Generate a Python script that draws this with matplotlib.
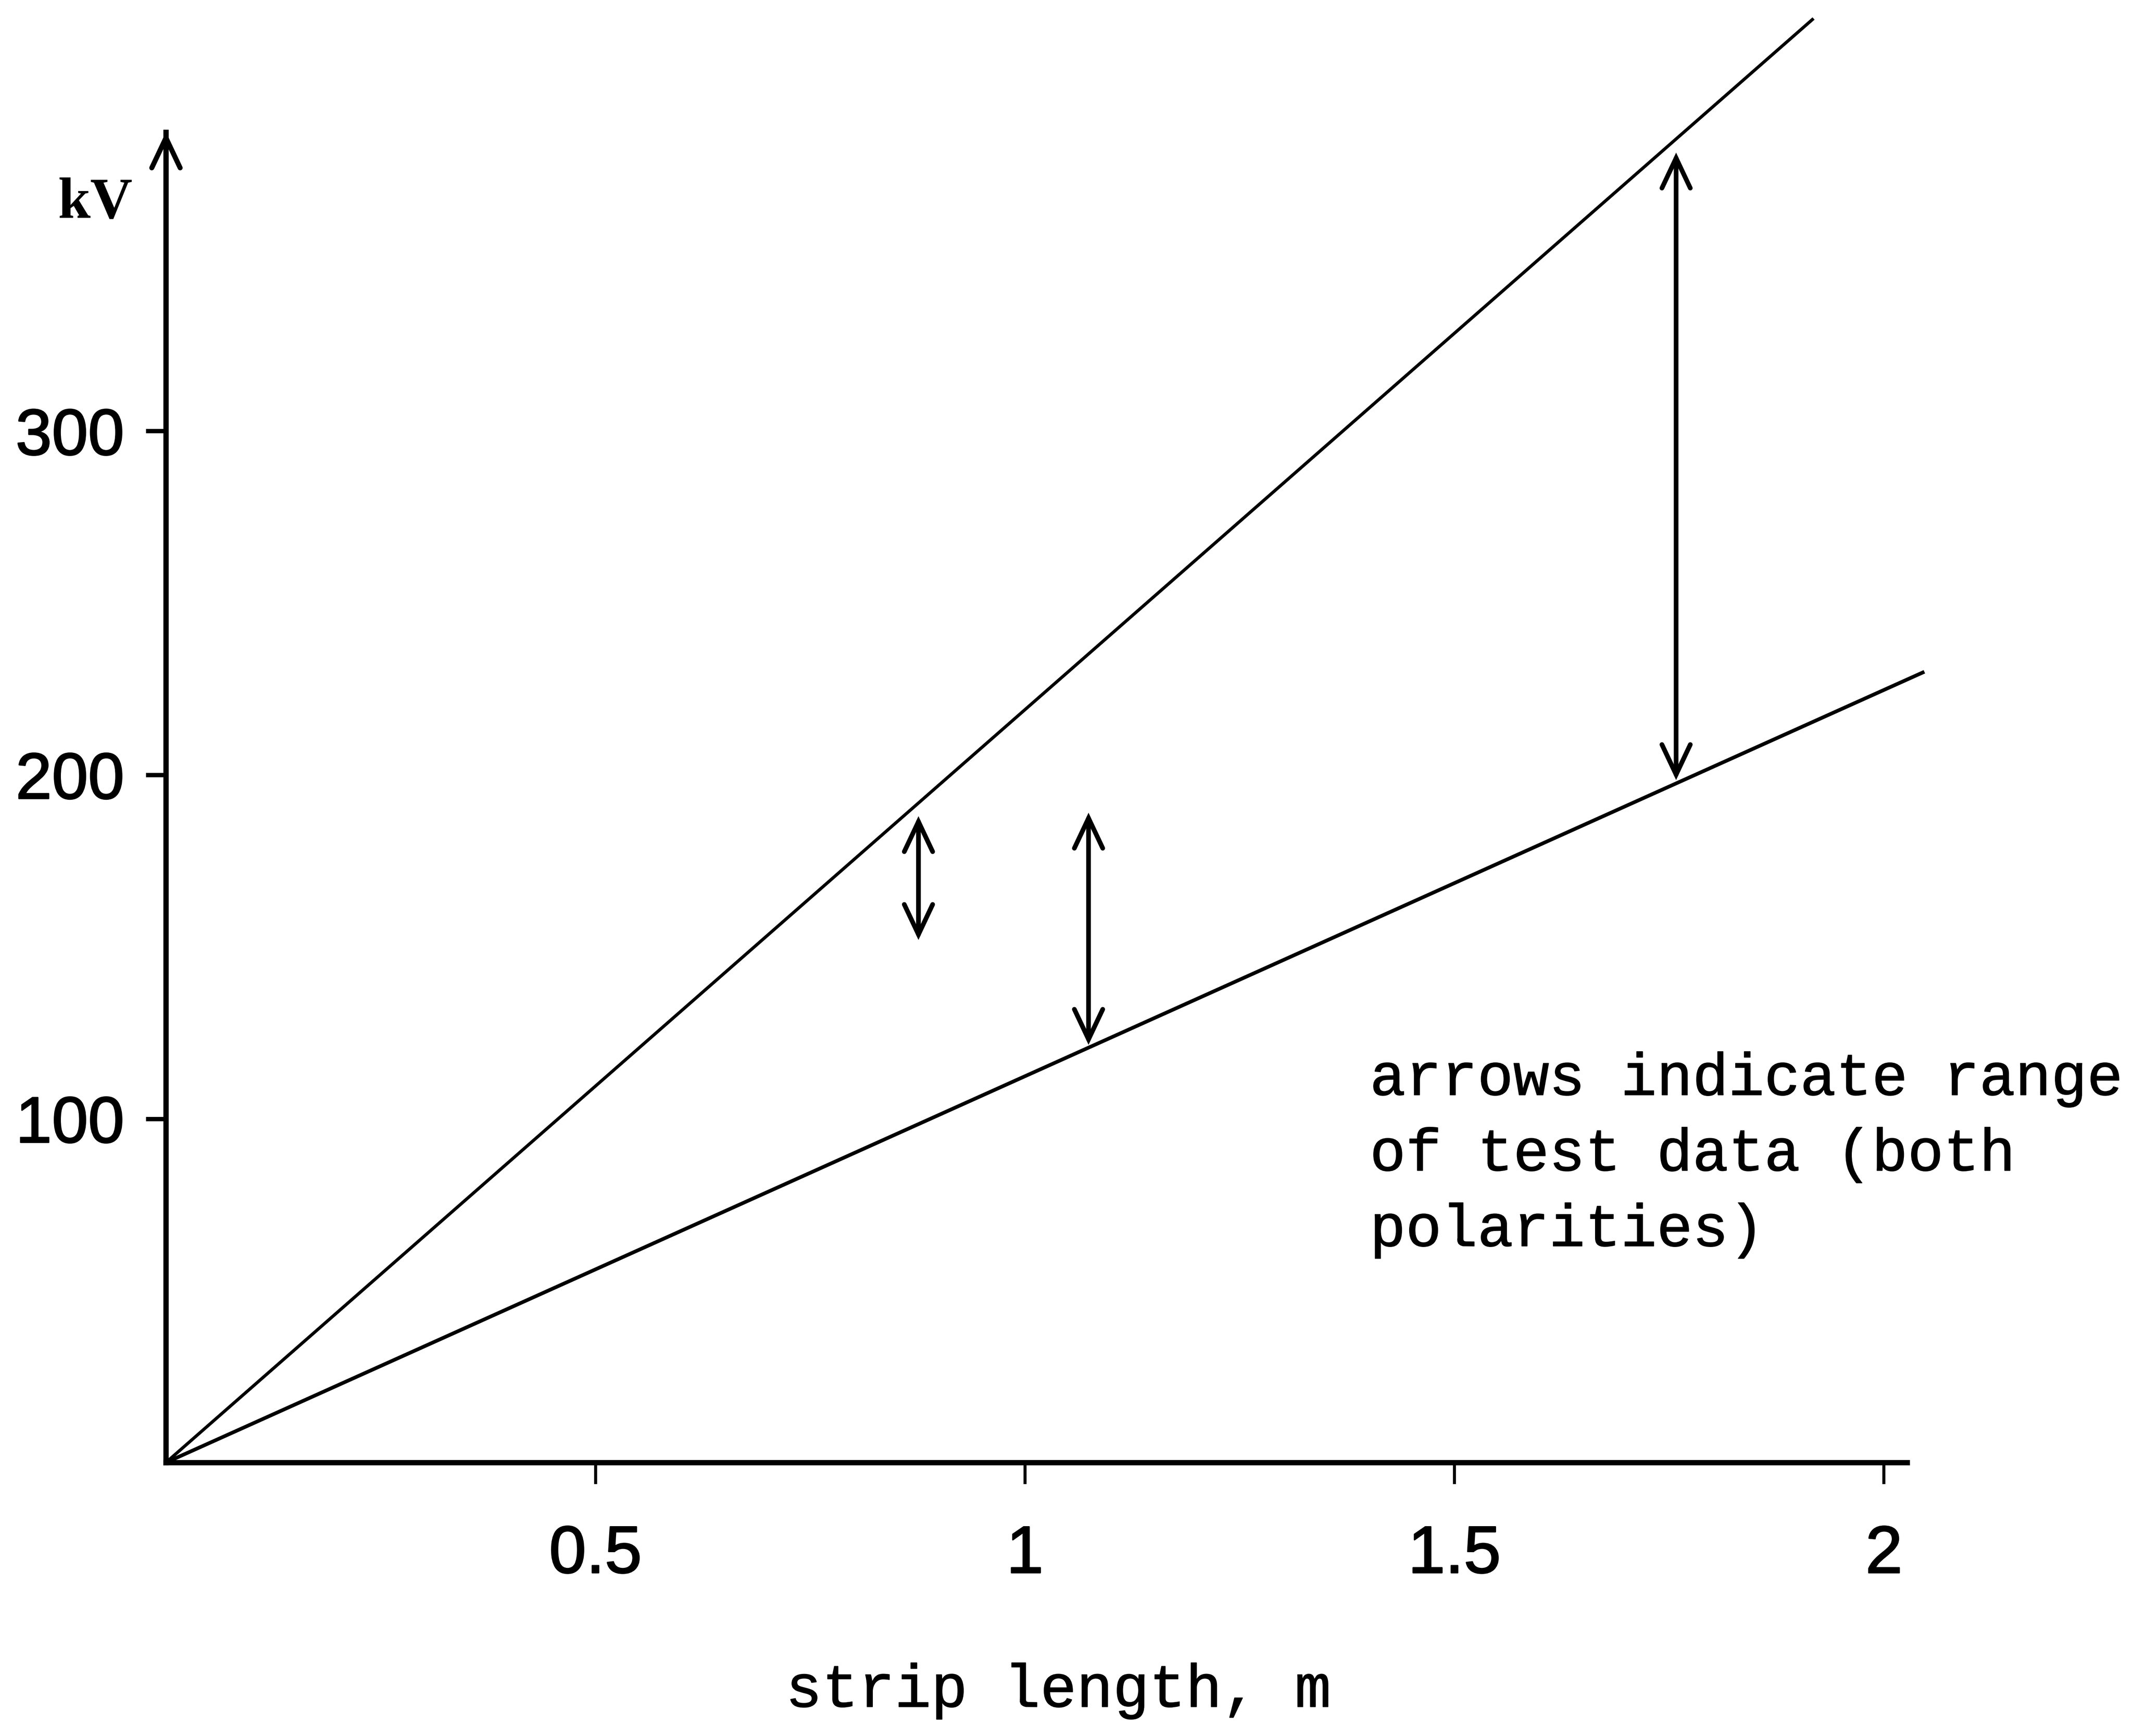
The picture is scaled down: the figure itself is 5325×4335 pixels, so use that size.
import matplotlib
matplotlib.use("Agg")
import matplotlib.pyplot as plt
import matplotlib.patheffects as pe

# ---- data ----
upper_x = [0.0, 1.918]         # strip length, m
upper_kv = [0.0, 420.0]        # kV (upper line, ~219 kV/m)
lower_x = [0.0, 2.047]
lower_kv = [0.0, 230.0]        # kV (lower line, ~112 kV/m)

# ranges of test data (double arrows)
arrow_x = [0.876, 1.074, 1.758]
arrow_low = [152.0, 121.5, 198.5]
arrow_high = [188.0, 189.0, 381.0]

x_ticks = [0.5, 1.0, 1.5, 2.0]
x_ticklabels = ["0.5", "1", "1.5", "2"]
y_ticks = [100, 200, 300]
y_ticklabels = ["100", "200", "300"]

x_max = 2.027
y_max = 387.0

thick = [pe.withStroke(linewidth=0.8, foreground="black")]
text_thick = [pe.withStroke(linewidth=0.45, foreground="black")]

fig = plt.figure(figsize=(5325 / 300, 4335 / 300), dpi=300)
fig.patch.set_facecolor("white")
ax = fig.add_axes([122 / 1568, 1 - 1075 / 1276, (1402 - 122) / 1568, (1075 - 97) / 1276])
ax.set_xlim(0, x_max)
ax.set_ylim(0, y_max)
ax.patch.set_alpha(0)

for s in ["top", "right"]:
    ax.spines[s].set_visible(False)
ax.spines["left"].set_linewidth(3.2)
ax.spines["bottom"].set_linewidth(3.2)

ax.plot(upper_x, upper_kv, color="black", lw=1.9, clip_on=False, solid_capstyle="butt")
ax.plot(lower_x, lower_kv, color="black", lw=2.2, clip_on=False, solid_capstyle="butt")

for xv, lo, hi in zip(arrow_x, arrow_low, arrow_high):
    ax.annotate("", xy=(xv, hi), xytext=(xv, lo),
                arrowprops=dict(arrowstyle="<->,head_length=1.8,head_width=0.85",
                                mutation_scale=10, color="black", lw=2.8,
                                shrinkA=0, shrinkB=0, joinstyle="miter"))

# y-axis arrow head
ax.annotate("", xy=(0, y_max), xytext=(0, y_max - 40),
            arrowprops=dict(arrowstyle="->,head_length=1.8,head_width=0.85",
                            mutation_scale=10, color="black", lw=3.0,
                            shrinkA=0, shrinkB=0),
            annotation_clip=False)

ax.set_xticks(x_ticks)
ax.set_xticklabels(x_ticklabels, family="Liberation Sans", fontsize=40)
ax.set_yticks(y_ticks)
ax.set_yticklabels(y_ticklabels, family="Liberation Sans", fontsize=39)
for lab in ax.get_xticklabels() + ax.get_yticklabels():
    lab.set_path_effects(thick)
ax.tick_params(axis="x", direction="out", length=13, width=1.8, pad=24, colors="black")
ax.tick_params(axis="y", direction="out", length=12, width=2.6, pad=13, colors="black")

fig.text(70 / 1568, 1 - 150 / 1276, "kV", family="Liberation Serif", fontweight="bold",
         fontsize=35, ha="center", va="center")

fig.text(778 / 1568, 1 - 1243 / 1276, "strip length, m", family="Liberation Mono",
         fontsize=36.3, ha="center", va="center", path_effects=text_thick)

fig.text(1007 / 1568, 1 - 773 / 1276,
         "arrows indicate range\nof test data (both\npolarities)",
         family="Liberation Mono", fontsize=35.8, ha="left", va="top",
         linespacing=1.46, path_effects=text_thick)

fig.savefig("out.png", dpi=300, facecolor="white")
